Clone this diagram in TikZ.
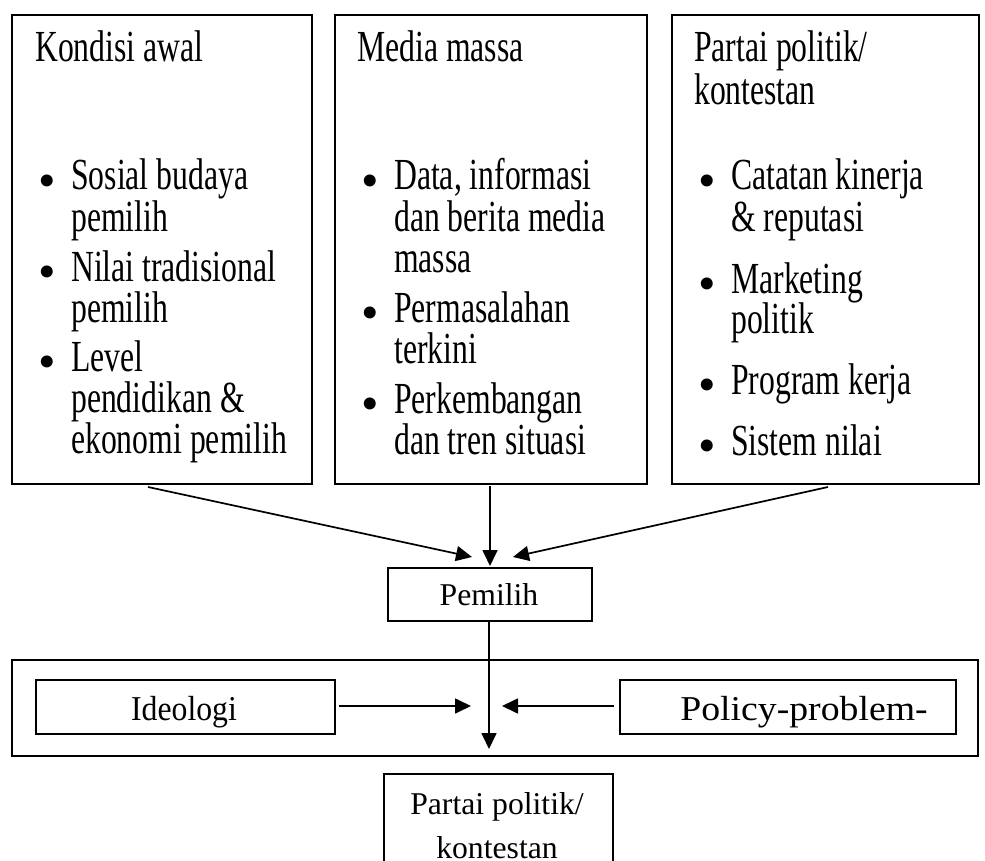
\documentclass[tikz,border=0pt]{standalone}
\usepackage{fontspec}
\setmainfont{Liberation Serif}
\usetikzlibrary{arrows.meta}
\newcommand{\tallt}[1]{\scalebox{1}[1.4]{#1}}
\begin{document}
\begin{tikzpicture}[x=1pt,y=-1pt,
  box/.style={draw, line width=1.6pt, inner sep=0pt, anchor=north west},
  txt/.style={inner sep=0pt, anchor=base west, font=\fontsize{31.7}{43}\selectfont},
  ctxt/.style={inner sep=0pt, anchor=base, font=\fontsize{31.7}{43}\selectfont},
  bul/.style={inner sep=0pt, anchor=base, font=\fontsize{50}{50}\selectfont},
  arr/.style={line width=1.7pt, -{Triangle[length=16pt,width=15pt]}},
]
\useasboundingbox (0,0) rectangle (985,861);
\clip (0,0) rectangle (985,861);
\fill[white] (0,0) rectangle (985,861);

% top boxes
\node[box, minimum width=300pt, minimum height=469pt] (k) at (11,14) {};
\node[box, minimum width=312pt, minimum height=469pt] (m) at (334,14) {};
\node[box, minimum width=307pt, minimum height=469pt] (p) at (671,14) {};

% column 1
\node[txt] (k0) at (35,62) {\tallt{Kondisi awal}};
\node[bul] (kb1) at (47,197) {•};
\node[txt] (k1) at (71,190) {\tallt{Sosial budaya}};
\node[txt] (k2) at (71,231) {\tallt{pemilih}};
\node[bul] (kb2) at (47,288) {•};
\node[txt] (k3) at (71,281) {\tallt{Nilai tradisional}};
\node[txt] (k4) at (71,322) {\tallt{pemilih}};
\node[bul] (kb3) at (47,378) {•};
\node[txt] (k5) at (71,371) {\tallt{Level}};
\node[txt] (k6) at (71,412) {\tallt{pendidikan \&}};
\node[txt] (k7) at (71,453) {\tallt{ekonomi pemilih}};

% column 2
\node[txt] (m0) at (357,62) {\tallt{Media massa}};
\node[bul] (mb1) at (370,197) {•};
\node[txt] (m1) at (394,190) {\tallt{Data, informasi}};
\node[txt] (m2) at (394,231) {\tallt{dan berita media}};
\node[txt] (m3) at (394,272) {\tallt{massa}};
\node[bul] (mb2) at (370,329) {•};
\node[txt] (m4) at (394,322) {\tallt{Permasalahan}};
\node[txt] (m5) at (394,363) {\tallt{terkini}};
\node[bul] (mb3) at (370,420) {•};
\node[txt] (m6) at (394,413) {\tallt{Perkembangan}};
\node[txt] (m7) at (394,454) {\tallt{dan tren situasi}};

% column 3
\node[txt] (p0) at (694,62) {\tallt{Partai politik/}};
\node[txt] (p1) at (694,105) {\tallt{kontestan}};
\node[bul] (pb1) at (707,197) {•};
\node[txt] (p2) at (731,190) {\tallt{Catatan kinerja}};
\node[txt] (p3) at (731,231) {\tallt{\& reputasi}};
\node[bul] (pb2) at (707,300) {•};
\node[txt] (p4) at (731,293) {\tallt{Marketing}};
\node[txt] (p5) at (731,333) {\tallt{politik}};
\node[bul] (pb3) at (707,401) {•};
\node[txt] (p6) at (731,394) {\tallt{Program kerja}};
\node[bul] (pb4) at (707,462) {•};
\node[txt] (p7) at (731,455) {\tallt{Sistem nilai}};

% Pemilih
\node[box, minimum width=204pt, minimum height=53pt] (pem) at (387,567) {};
\node[ctxt] (pemt) at (489,605) {Pemilih};

\coordinate (a1s) at (148,487);
\coordinate (a1e) at (472,557);
\coordinate (a2s) at (490,486);
\coordinate (a2e) at (490,566);
\coordinate (a3s) at (828,487);
\coordinate (a3e) at (513,557);
\draw[arr] (a1s) -- (a1e);
\draw[arr] (a2s) -- (a2e);
\draw[arr] (a3s) -- (a3e);

% outer box
\node[box, minimum width=966pt, minimum height=96pt] (outer) at (11,659) {};
\node[box, minimum width=299pt, minimum height=54pt] (ideo) at (35,679) {};
\node[ctxt] (ideot) at (184,720) {\scalebox{1}[1.1]{Ideologi}};
\node[box, minimum width=336pt, minimum height=54pt] (pol) at (619,679) {};
\node[ctxt] (polt) at (804,720) {\scalebox{1.19}[1.1]{Policy-problem-}};

\coordinate (pemb) at (489,621);
\coordinate (downtip) at (489,749);
\draw[arr] (pemb) -- (downtip);
\coordinate (i1) at (339,706);
\coordinate (i2) at (471,706);
\coordinate (q1) at (614,706);
\coordinate (q2) at (502,706);
\draw[arr] (i1) -- (i2);
\draw[arr] (q1) -- (q2);

% bottom box
\node[box, minimum width=229pt, minimum height=120pt] (pk) at (383,773) {};
\node[ctxt] (pk1) at (497,814) {Partai politik/};
\node[ctxt] (pk2) at (497,858) {kontestan};
\end{tikzpicture}
\end{document}
